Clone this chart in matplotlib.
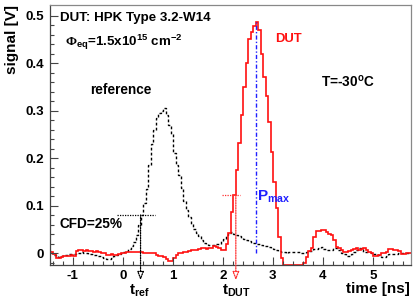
"""DUT vs reference waveform with CFD timing markers (HPK Type 3.2-W14)."""

import matplotlib

matplotlib.use("Agg")
import matplotlib.pyplot as plt
import numpy as np

# histogram binning of the waveforms (ns)
BIN_START = -1.49
BIN_WIDTH = 0.05

# DUT signal [V], one value per 0.05 ns bin
dut_signal = [
    0.002, 0.002, -0.002, -0.010, -0.010, -0.008, -0.006, -0.006, -0.006, -0.004,
    -0.006, 0.004, 0.006, 0.006, 0.005, 0.006, 0.004, 0.004, 0.003, 0.004,
    0.002, 0.000, 0.000, -0.004, -0.004, -0.003, -0.004, -0.005, -0.002, 0.000,
    0.000, 0.002, 0.002, 0.003, 0.002, 0.002, 0.002, 0.002, 0.000, 0.001,
    0.000, 0.000, 0.001, -0.004, -0.006, -0.006, -0.008, -0.012, -0.016, -0.016,
    -0.010, -0.004, 0.000, 0.000, 0.003, 0.003, 0.005, 0.006, 0.006, 0.007,
    0.008, 0.010, 0.010, 0.009, 0.010, 0.010, 0.014, 0.012, 0.010, 0.006,
    0.006, 0.019, 0.042, 0.086, 0.122, 0.175, 0.232, 0.290, 0.350, 0.400,
    0.450, 0.465, 0.478, 0.487, 0.470, 0.420, 0.370, 0.330, 0.276, 0.213,
    0.150, 0.095, 0.034, -0.010, -0.035, -0.040, -0.040, -0.040, -0.040, -0.040,
    -0.040, -0.035, -0.022, -0.008, 0.005, 0.010, 0.034, 0.046, 0.046, 0.048,
    0.048, 0.044, 0.040, 0.038, 0.027, 0.013, 0.010, 0.006, 0.002, 0.002,
    0.004, 0.006, 0.008, 0.010, 0.006, 0.008, 0.010, 0.006, 0.002, 0.000,
    -0.006, -0.006, -0.004, 0.000, 0.000, 0.002, 0.008, 0.008, 0.006, 0.006,
    0.004, -0.002, -0.002, 0.000, 0.000, 0.000,
]

# reference (trigger) signal [V]
ref_signal = [
    0.004, 0.000, -0.004, -0.006, -0.008, -0.006, -0.005, -0.004, -0.003, -0.002,
    -0.001, 0.000, 0.001, 0.002, 0.001, 0.000, -0.002, -0.002, -0.004, -0.004,
    -0.006, -0.008, -0.010, -0.012, -0.012, -0.010, -0.007, -0.004, -0.002, 0.000,
    0.002, 0.004, 0.008, 0.014, 0.024, 0.038, 0.058, 0.080, 0.105, 0.135,
    0.185, 0.230, 0.260, 0.285, 0.295, 0.300, 0.305, 0.290, 0.270, 0.250,
    0.210, 0.185, 0.165, 0.137, 0.110, 0.090, 0.076, 0.062, 0.050, 0.043,
    0.035, 0.028, 0.022, 0.018, 0.016, 0.016, 0.017, 0.018, 0.020, 0.026,
    0.030, 0.038, 0.042, 0.044, 0.040, 0.038, 0.036, 0.032, 0.030, 0.027,
    0.025, 0.022, 0.021, 0.020, 0.018, 0.016, 0.015, 0.014, 0.013, 0.010,
    0.008, 0.006, 0.005, 0.003, 0.002, 0.000, 0.002, 0.003, 0.002, 0.003,
    0.002, 0.001, 0.000, 0.002, 0.004, 0.004, 0.008, 0.008, 0.010, 0.012,
    0.008, 0.006, 0.006, 0.006, 0.010, 0.010, 0.006, 0.000, -0.002, -0.006,
    -0.006, -0.002, 0.002, 0.006, 0.010, 0.008, 0.002, 0.002, 0.002, 0.000,
    -0.002, -0.002, -0.004, -0.008, -0.008, -0.006, -0.002, -0.002, -0.002, -0.002,
    0.000, 0.000, 0.000, 0.000, 0.000, 0.002,
]

# CFD (25%) crossing and peak markers: time [ns], level [V]
t_ref, cfd_ref = 0.355, 0.080
t_dut, cfd_dut = 2.26, 0.122
t_max, p_max = 2.66, 0.487
cfd_ref_span = (-0.12, 0.65)
cfd_dut_span = (1.98, 2.34)

XLIM = (-1.46, 5.76)
YLIM = (-0.025, 0.522)

plt.rcParams["font.family"] = "Liberation Sans"
plt.rcParams["font.weight"] = "bold"
plt.rcParams["axes.unicode_minus"] = False
plt.rcParams["mathtext.fontset"] = "custom"
plt.rcParams["mathtext.rm"] = "Liberation Serif"
plt.rcParams["mathtext.it"] = "Liberation Sans:bold"
plt.rcParams["mathtext.bf"] = "Liberation Sans:bold"

fig = plt.figure(figsize=(4.15, 3.0), dpi=100)
ax = fig.add_axes([0.12, 0.117, 0.87, 0.866])

edges = BIN_START + BIN_WIDTH * np.arange(len(dut_signal) + 1)
dut = np.clip(np.array(dut_signal), YLIM[0], None)
ref = np.clip(np.array(ref_signal), YLIM[0], None)

ax.stairs(ref, edges, color="black", lw=1.0, ls=(0, (2, 1.6)), baseline=None)
ax.stairs(dut, edges, color="#ff1010", lw=1.2, baseline=None)

# CFD markers
ax.plot(cfd_ref_span, [cfd_ref, cfd_ref], color="black", lw=0.9, ls=(0, (1, 1)))
ax.plot(cfd_dut_span, [cfd_dut, cfd_dut], color="#ff3030", lw=0.9, ls=(0, (1, 1)))
arrow_end = -0.057
for t, lvl, col in [(t_ref, cfd_ref, "black"), (t_dut, cfd_dut, "#ff3030")]:
    ax.annotate("", xy=(t, arrow_end), xytext=(t, lvl), annotation_clip=False,
                arrowprops=dict(arrowstyle="-|>,head_length=0.5,head_width=0.2",
                                color=col, lw=0.9, ls=(0, (1, 1)), fc="white",
                                shrinkA=0, shrinkB=0))
ax.plot([t_max, t_max], [0, p_max], color="#2020ff", lw=1.0, ls=(0, (3, 1.5, 1, 1.5)))

ax.text(t_ref - 0.02, -0.080, r"t$_{\mathbf{ref}}$", fontsize=11, ha="center",
        va="center", clip_on=False)
ax.text(t_dut + 0.02, -0.080, r"t$_{\mathbf{DUT}}$", fontsize=11, ha="center",
        va="center", clip_on=False)
ax.text(t_max + 0.02, 0.118, r"P$_{\mathbf{max}}$", fontsize=11, color="#2020ff",
        ha="left", va="center")

# annotations
ax.text(-1.26, 0.495, "DUT: HPK Type 3.2-W14", fontsize=9.6, va="center")
ax.text(-1.16, 0.444, r"$\Phi_{\mathbf{eq}}$=1.5x10$^{\mathbf{15}}$ cm$^{\mathbf{-2}}$",
        fontsize=9.6, va="center")
ax.text(-0.04, 0.343, "reference", fontsize=9.8, ha="center", va="center")
ax.text(3.32, 0.450, "DUT", fontsize=9.4, color="#ff1010", ha="center", va="center")
ax.text(4.51, 0.360, r"T=-30$^{\mathbf{o}}$C", fontsize=9.8, ha="center", va="center")
ax.text(-1.26, 0.061, "CFD=25%", fontsize=9.8, va="center")

ax.set_xlim(*XLIM)
ax.set_ylim(*YLIM)
ax.set_xticks(np.arange(-1, 6))
ax.set_yticks(np.arange(0, 0.51, 0.1))
ax.set_yticklabels(["0", "0.1", "0.2", "0.3", "0.4", "0.5"])
ax.set_xticks(np.arange(-1.4, 5.8, 0.2), minor=True)
ax.set_yticks(np.arange(-0.02, 0.52, 0.02), minor=True)
ax.tick_params(which="both", direction="in", top=False, right=False,
               labelsize=9.6, color="#444444", width=0.8)
ax.tick_params(which="major", length=6, pad=4)
ax.tick_params(which="minor", length=3)
for name, sp in ax.spines.items():
    sp.set_linewidth(0.9)
    sp.set_color("#444444" if name in ("left", "bottom") else "#888888")

fig.text(0.988, 0.035, "time [ns]", fontsize=11, ha="right", va="center")
fig.text(0.028, 0.983, "signal [V]", fontsize=11, rotation=90, ha="center", va="top")

fig.savefig("out.png", dpi=100)
